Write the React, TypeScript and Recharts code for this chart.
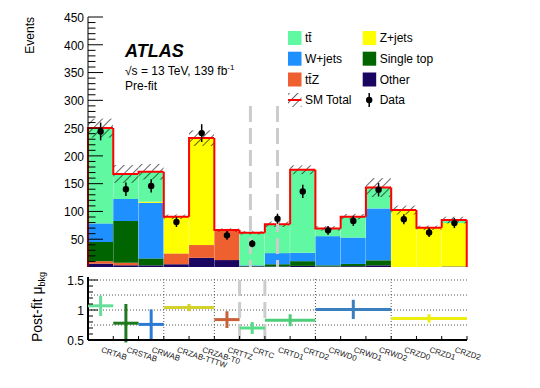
import { ComposedChart, Bar, Line, Scatter, XAxis, YAxis, ErrorBar, ReferenceLine } from "recharts";

const regions = [
  "CRTAB", "CRSTAB", "CRWAB", "CRZAB-TTTW", "CRZAB-T0", "CRTTZ", "CRTC", "CRTD1",
  "CRTD2", "CRWD0", "CRWD1", "CRWD2", "CRZD0", "CRZD1", "CRZD2",
];

// stacked backgrounds, bottom to top
const other = [6, 3, 3, 5, 16.5, 12.5, 1, 1, 2, 1, 1.5, 3, 0, 0, 1];
const ttz = [4.5, 4.5, 0, 19.5, 23, 54, 0, 0, 0, 0, 0, 0, 0, 0, 0];
const singleTop = [34.5, 75.5, 12.5, 0, 0, 0, 1, 4, 8.5, 2, 4, 9, 0, 0, 0];
const wjets = [33.5, 39.5, 100, 0, 0, 0, 1, 20, 15, 52.5, 47.5, 93.5, 0, 0, 0];
const zjets = [0, 0, 2, 66, 192.5, 0, 0, 0, 0, 0, 0, 0, 102.5, 70.5, 78];
const ttbar = [171.5, 45, 54, 0, 0, 0, 58.5, 52, 149.5, 14, 37.5, 37.5, 0, 0, 5.5];

const smUnc = [17, 16, 14, 4, 14, 3, 3, 5, 8, 4, 5, 17, 8, 4, 6];
const dataObs = [244, 140, 146, 81, 241, 57, 42, 87, 136, 66, 83, 139, 86, 62, 79];
const dataErr = [16, 12, 12, 9, 16, 8, 6.5, 9, 12, 8, 9, 12, 9, 8, 9];

const eventTicks = [
  10, 20, 30, 40, 50, 60, 70, 80, 90, 100, 110, 120, 130, 140, 150, 160, 170, 180, 190, 200,
  210, 220, 230, 240, 250, 260, 270, 280, 290, 300, 310, 320, 330, 340, 350, 360, 370, 380,
  390, 400, 410, 420, 430, 440, 450,
];
const muTicks = [0.5, 0.6, 0.7, 0.8, 0.9, 1, 1.1, 1.2, 1.3, 1.4, 1.5];
const muGrid = [0.75, 1, 1.25, 1.5];

// post-fit normalisation factors
const muRegions = [
  ["CRTAB"], ["CRSTAB"], ["CRWAB"], ["CRZAB-TTTW", "CRZAB-T0"], ["CRTTZ"], ["CRTC"],
  ["CRTD1", "CRTD2"], ["CRWD0", "CRWD1", "CRWD2"], ["CRZD0", "CRZD1", "CRZD2"],
];
const muValues = [1.07, 0.78, 0.76, 1.04, 0.84, 0.7, 0.83, 1.01, 0.86];
const muErrors = [0.17, 0.32, 0.25, 0.06, 0.14, 0.1, 0.1, 0.16, 0.07];
const muColors = ["#66dd99", "#1e7a1e", "#2b7bd4", "#d2d22a", "#c8613a", "#55dd88", "#4dcc7a", "#3a7fc0", "#eded10"];

const FONT = '"Liberation Sans", Arial, Helvetica, sans-serif';

const stackSeries = [
  { key: "other", label: "Other", color: "#1a0560" },
  { key: "ttz", label: "tt\u0304Z", color: "#ee6030" },
  { key: "singleTop", label: "Single top", color: "#006400" },
  { key: "wjets", label: "W+jets", color: "#1e90ff" },
  { key: "zjets", label: "Z+jets", color: "#ffff00" },
  { key: "ttbar", label: "tt\u0304", color: "#60f8a0" },
];
const values: Record<string, number[]> = { other, ttz, singleTop, wjets, zjets, ttbar };

const rows = regions.map((name, i) => {
  const row: any = { name };
  let total = 0;
  stackSeries.forEach((s) => {
    row[s.key] = values[s.key][i];
    total += values[s.key][i];
  });
  row.total = total;
  row.band = [total - smUnc[i], total + smUnc[i]];
  row.data = dataObs[i];
  row.dataErr = dataErr[i];
  return row;
});

const binEdges = [...regions.map((_, i) => i), regions.length];
const binCenters = regions.map((_, i) => i + 0.5);
const ratioTicks = [...binEdges, ...binCenters].sort((a, b) => a - b);

// hatched uncertainty + red SM total outline
function SmShape(props: any) {
  const { x, y, width, height, payload } = props;
  const i = regions.indexOf(payload.name);
  const k = height / (2 * smUnc[i]);
  const mid = y + height / 2;
  const prev = i > 0 ? rows[i - 1].total : 0;
  const prevY = mid + (payload.total - prev) * k;
  return (
    <g>
      <rect x={x} y={y} width={width} height={height} fill="url(#hatch)" />
      <path d={`M${x},${prevY}V${mid}H${x + width}`} stroke="#ff0000" strokeWidth={2} fill="none" />
      {i === regions.length - 1 && (
        <path d={`M${x + width},${mid}V${mid + payload.total * k}`} stroke="#ff0000" strokeWidth={2} fill="none" />
      )}
    </g>
  );
}

const edgeTick = (len: number, dir: number) => (p: any) => (
  <line x1={p.x} x2={p.x} y1={p.y} y2={p.y + dir * len} stroke="#000" strokeWidth={1} />
);

const yTick = (
  side: number,
  isMajor: (v: number) => boolean,
  majLen: number,
  minLen: number,
  withLabel: boolean
) => (p: any) => {
  const v = p.payload.value;
  const maj = isMajor(v);
  return (
    <g>
      <line x1={p.x} x2={p.x + side * (maj ? majLen : minLen)} y1={p.y} y2={p.y} stroke="#000" strokeWidth={1} />
      {withLabel && maj && (
        <text x={p.x - 4} y={p.y} dy="0.4em" textAnchor="end" fontSize={12} fontFamily={FONT} fill="#000">
          {String(v)}
        </text>
      )}
    </g>
  );
};

const majEvents = (v: number) => v % 50 === 0;
const majMu = (v: number) => Math.abs(v * 2 - Math.round(v * 2)) < 1e-6;

const ratioXTick = (p: any) => {
  const v = p.payload.value;
  if (Number.isInteger(v)) {
    return <line x1={p.x} x2={p.x} y1={p.y} y2={p.y - 4} stroke="#000" strokeWidth={1} />;
  }
  const ty = p.y + 12;
  return (
    <text x={p.x} y={ty} transform={`rotate(18 ${p.x} ${ty})`} fontSize={8} fontFamily={FONT} fill="#222">
      {regions[Math.floor(v)]}
    </text>
  );
};

const legendCols = [
  [stackSeries[5], stackSeries[3], stackSeries[1]],
  [stackSeries[4], stackSeries[2], stackSeries[0]],
];

function Overlay() {
  const rowY = [38, 58.7, 79.5, 100];
  const colX = [288, 362.7];
  return (
    <svg width={540} height={388} style={{ position: "absolute", left: 0, top: 0, pointerEvents: "none" }}>
      <text transform="translate(34.3,17) rotate(-90)" textAnchor="end" fontSize={12} fontFamily={FONT}>
        Events
      </text>
      <text transform="translate(41.7,272) rotate(-90)" textAnchor="end" fontSize={14} fontFamily={FONT}>
        Post-fit μ
        <tspan fontSize={9} dy={3}>bkg</tspan>
      </text>
      <text x={125} y={57} fontSize={18} fontWeight="bold" fontStyle="italic" fontFamily={FONT}>
        ATLAS
      </text>
      <text x={125} y={75} fontSize={12} fontFamily={FONT}>
        √s = 13 TeV, 139 fb
        <tspan fontSize={8} dy={-5}>-1</tspan>
      </text>
      <text x={125} y={89.5} fontSize={12} fontFamily={FONT}>
        Pre-fit
      </text>
      {legendCols.map((col, c) =>
        col.map((s, r) => (
          <g key={s.key}>
            <rect x={colX[c]} y={rowY[r] - 7} width={13.5} height={14} fill={s.color} />
            <text x={colX[c] + 17} y={rowY[r]} dy="0.36em" fontSize={12} fontFamily={FONT}>
              {s.label}
            </text>
          </g>
        ))
      )}
      <rect x={colX[0]} y={rowY[3] - 7} width={13.5} height={14} fill="url(#hatch)" />
      <line x1={colX[0]} x2={colX[0] + 13.5} y1={rowY[3]} y2={rowY[3]} stroke="#ff0000" strokeWidth={2} />
      <text x={colX[0] + 17} y={rowY[3]} dy="0.36em" fontSize={12} fontFamily={FONT}>
        SM Total
      </text>
      <line x1={colX[1] + 6.5} x2={colX[1] + 6.5} y1={rowY[3] - 7} y2={rowY[3] + 7} stroke="#000" strokeWidth={1.5} />
      <circle cx={colX[1] + 6.5} cy={rowY[3]} r={3.2} fill="#000" />
      <text x={colX[1] + 17} y={rowY[3]} dy="0.36em" fontSize={12} fontFamily={FONT}>
        Data
      </text>
    </svg>
  );
}

export default function App() {
  return (
    <div style={{ position: "absolute", left: 0, top: 0, width: 540, height: 388, background: "#fff" }}>
      <svg width={0} height={0} style={{ position: "absolute" }}>
        <defs>
          <pattern id="hatch" patternUnits="userSpaceOnUse" width={6} height={6} patternTransform="rotate(45)">
            <line x1={0} y1={0} x2={0} y2={6} stroke="#000" strokeWidth={1.2} />
          </pattern>
        </defs>
      </svg>

      <div style={{ position: "absolute", left: 0, top: 0 }}>
        <ComposedChart
          width={540}
          height={270}
          data={rows}
          margin={{ top: 17, right: 73, bottom: 3, left: 0 }}
          barCategoryGap={0}
          barGap={0}
        >
          <XAxis xAxisId="main" dataKey="name" height={0} tick={false} tickLine={false} axisLine={{ stroke: "#000", strokeWidth: 1 }} />
          <XAxis xAxisId="sm" dataKey="name" orientation="top" height={0} tick={false} tickLine={false} axisLine={{ stroke: "#666", strokeWidth: 2 }} />
          <XAxis xAxisId="edgeB" type="number" domain={[0, regions.length]} allowDataOverflow ticks={binEdges} interval={0}
            height={0} tickSize={0} tickMargin={0} axisLine={false} tickLine={false} tick={edgeTick(5, -1)} />
          <XAxis xAxisId="edgeT" type="number" orientation="top" domain={[0, regions.length]} allowDataOverflow ticks={binEdges} interval={0}
            height={0} tickSize={0} tickMargin={0} axisLine={false} tickLine={false} tick={edgeTick(4, 1)} />
          <YAxis yAxisId="ev" domain={[0, 450]} allowDataOverflow ticks={eventTicks} interval={0} width={88}
            tickSize={0} tickMargin={0} tickLine={false} axisLine={{ stroke: "#000", strokeWidth: 1 }}
            tick={yTick(1, majEvents, 15, 7.5, true)} />
          <YAxis yAxisId="evR" orientation="right" domain={[0, 450]} allowDataOverflow ticks={eventTicks} interval={0} width={0}
            tickSize={0} tickMargin={0} tickLine={false} axisLine={{ stroke: "#666", strokeWidth: 2 }}
            tick={yTick(-1, majEvents, 6, 3.5, false)} />

          {stackSeries.map((s) => (
            <Bar key={s.key} xAxisId="main" yAxisId="ev" dataKey={s.key} stackId="bkg" fill={s.color} isAnimationActive={false} />
          ))}
          <Bar xAxisId="sm" yAxisId="ev" dataKey="band" shape={SmShape} isAnimationActive={false} />

          <ReferenceLine xAxisId="edgeB" yAxisId="ev" segment={[{ x: 6, y: 290 }, { x: 6, y: 0 }]}
            stroke="#cccccc" strokeWidth={3} strokeDasharray="16 6" />
          <ReferenceLine xAxisId="edgeB" yAxisId="ev" segment={[{ x: 7, y: 290 }, { x: 7, y: 0 }]}
            stroke="#cccccc" strokeWidth={3} strokeDasharray="16 6" />

          <Line xAxisId="main" yAxisId="ev" dataKey="data" stroke="none" activeDot={false}
            dot={{ r: 3.2, fill: "#000", stroke: "#000", strokeWidth: 0 }} isAnimationActive={false}>
            <ErrorBar dataKey="dataErr" direction="y" width={0} stroke="#000" strokeWidth={1.5} />
          </Line>
        </ComposedChart>
      </div>

      <div style={{ position: "absolute", left: 0, top: 270 }}>
        <ComposedChart width={540} height={118} margin={{ top: 7, right: 73, bottom: 0, left: 0 }}>
          <XAxis xAxisId="r" type="number" dataKey="x" domain={[0, regions.length]} allowDataOverflow ticks={ratioTicks} interval={0}
            height={48} tickSize={0} tickMargin={0} tickLine={false} axisLine={{ stroke: "#000", strokeWidth: 2 }} tick={ratioXTick} />
          <XAxis xAxisId="rt" type="number" orientation="top" domain={[0, regions.length]} allowDataOverflow ticks={binEdges} interval={0}
            height={0} tickSize={0} tickMargin={0} tickLine={false} axisLine={{ stroke: "#000", strokeWidth: 2 }} tick={edgeTick(4, 1)} />
          <YAxis yAxisId="mu" dataKey="y" domain={[0.5, 1.55]} allowDataOverflow ticks={muTicks} interval={0} width={88}
            tickSize={0} tickMargin={0} tickLine={false} axisLine={{ stroke: "#000", strokeWidth: 2 }}
            tick={yTick(1, majMu, 10, 5, true)} />
          <YAxis yAxisId="muR" orientation="right" domain={[0.5, 1.55]} allowDataOverflow ticks={muTicks} interval={0} width={0}
            tickSize={0} tickMargin={0} tickLine={false} axisLine={{ stroke: "#000", strokeWidth: 2 }}
            tick={yTick(-1, majMu, 6, 3.5, false)} />

          {muGrid.map((v) => (
            <ReferenceLine key={`g${v}`} xAxisId="r" yAxisId="mu" y={v} stroke="#555" strokeWidth={1} strokeDasharray="1 2" />
          ))}
          {[3, 5, 9, 12].map((v) => (
            <ReferenceLine key={`v${v}`} xAxisId="r" yAxisId="mu" x={v} stroke="#555" strokeWidth={1} strokeDasharray="1 2" />
          ))}
          {[6, 7].map((v) => (
            <ReferenceLine key={`d${v}`} xAxisId="r" yAxisId="mu" x={v} stroke="#cccccc" strokeWidth={3} strokeDasharray="16 6" />
          ))}

          {muRegions.map((g, j) => {
            const a = regions.indexOf(g[0]);
            const b = regions.indexOf(g[g.length - 1]) + 1;
            return [
              <Scatter key={`h${j}`} xAxisId="r" yAxisId="mu" data={[{ x: a, y: muValues[j] }, { x: b, y: muValues[j] }]}
                fill={muColors[j]} line={{ stroke: muColors[j], strokeWidth: 3 }} shape={() => <g />} isAnimationActive={false} />,
              <Scatter key={`e${j}`} xAxisId="r" yAxisId="mu" data={[{ x: (a + b) / 2, y: muValues[j], e: muErrors[j] }]}
                fill={muColors[j]} shape={() => <g />} isAnimationActive={false}>
                <ErrorBar dataKey="e" direction="y" width={0} stroke={muColors[j]} strokeWidth={3} />
              </Scatter>,
            ];
          })}
        </ComposedChart>
      </div>

      <Overlay />
    </div>
  );
}
